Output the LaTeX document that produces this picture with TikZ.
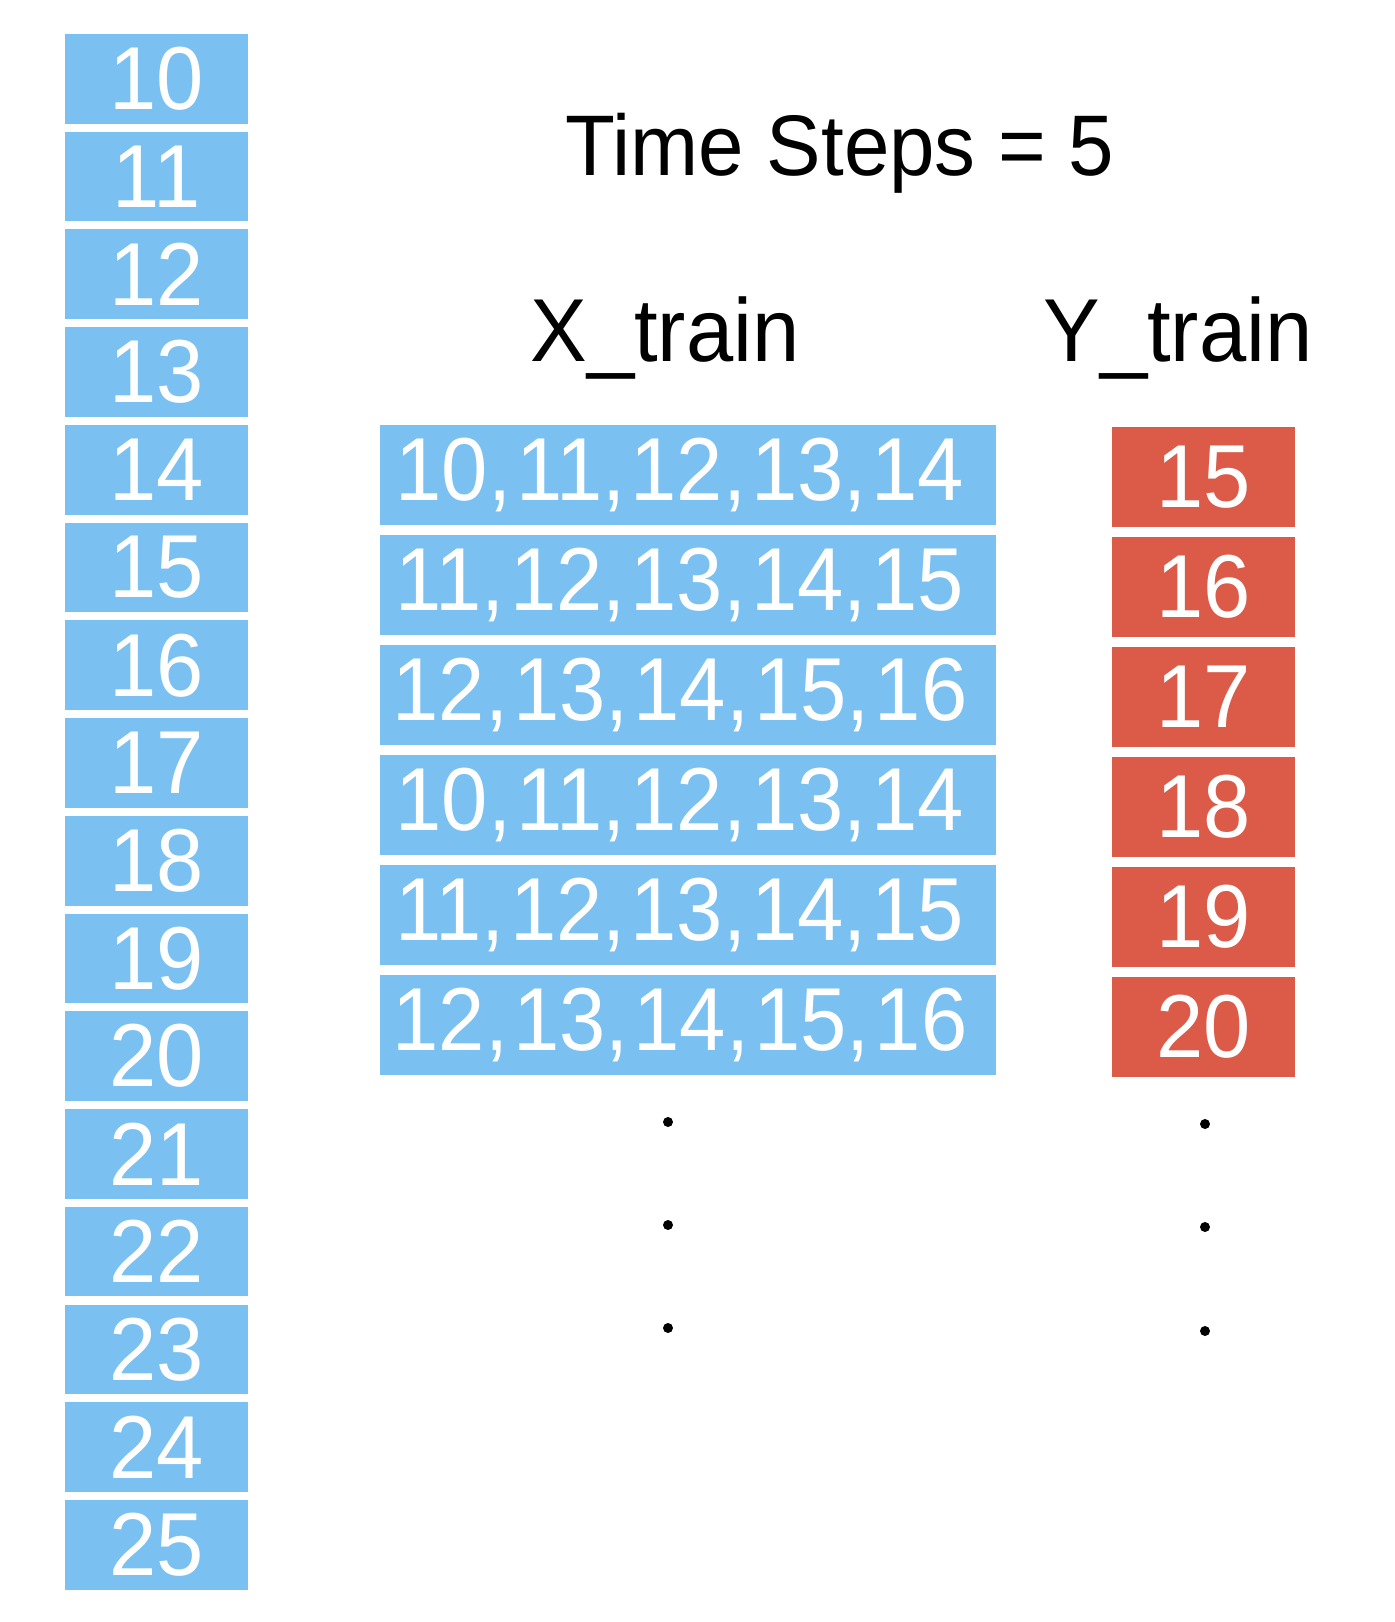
\documentclass[tikz,border=0pt]{standalone}
\usepackage{fontspec}
\setmainfont{Liberation Sans}[FakeStretch=0.95]
\newfontfamily\rowfont{Liberation Sans}[FakeStretch=0.93]
\definecolor{cellblue}{RGB}{122,193,242}
\definecolor{cellred}{RGB}{220,90,72}
\newcommand{\cm}{,\hspace{2.5pt}}
\begin{document}
\begin{tikzpicture}[x=0.5pt,y=-0.5pt,
  numfont/.style={font=\fontsize{44.7}{50}\selectfont},
  cell/.style={fill=cellblue, inner sep=0pt, text=white, numfont,
    minimum width=91.5pt, minimum height=44.85pt},
  xcell/.style={fill=cellblue, inner sep=0pt,
    minimum width=308pt, minimum height=50pt},
  xtext/.style={inner sep=0pt, text=white, font=\rowfont\fontsize{44.7}{50}\selectfont},
  ycell/.style={fill=cellred, inner sep=0pt, text=white, numfont,
    minimum width=91.5pt, minimum height=50pt},
  heading/.style={anchor=base, inner sep=0pt, numfont},
  dotnode/.style={circle, fill=black, inner sep=0pt, minimum size=5pt}]
\useasboundingbox (0,0) rectangle (1394,1622);
% source sequence
\foreach \i in {0,...,15}{
  \pgfmathtruncatemacro{\v}{10+\i}
  \node[cell] (s\i) at (156.5,{78.85+97.73*\i}) {\v};
}
% title and headings
\node[heading, font=\fontsize{43}{48}\selectfont] (title) at (840,175) {Time Steps = 5};
\node[heading] (xhead) at (665,361.7) {X\_train};
\node[heading] (yhead) at (1178,361.7) {Y\_train};
% X_train rows
\foreach \j/\t in {0/{10\cm 11\cm 12\cm 13\cm 14},1/{11\cm 12\cm 13\cm 14\cm 15},2/{12\cm 13\cm 14\cm 15\cm 16},
                   3/{10\cm 11\cm 12\cm 13\cm 14},4/{11\cm 12\cm 13\cm 14\cm 15},5/{12\cm 13\cm 14\cm 15\cm 16}}{
  \node[xcell] (x\j) at (688,{475+110*\j}) {};
  \node[xtext] (xt\j) at ([xshift=-4pt]x\j.center) {\t};
}
% Y_train rows
\foreach \j in {0,...,5}{
  \pgfmathtruncatemacro{\v}{15+\j}
  \node[ycell] (y\j) at (1203.5,{477+110*\j}) {\v};
}
% continuation dots
\node[dotnode] (xd1) at (668,1122) {};
\node[dotnode] (xd2) at (668,1225) {};
\node[dotnode] (xd3) at (668,1328) {};
\node[dotnode] (yd1) at (1205,1124) {};
\node[dotnode] (yd2) at (1205,1227) {};
\node[dotnode] (yd3) at (1205,1331) {};
\end{tikzpicture}
\end{document}
